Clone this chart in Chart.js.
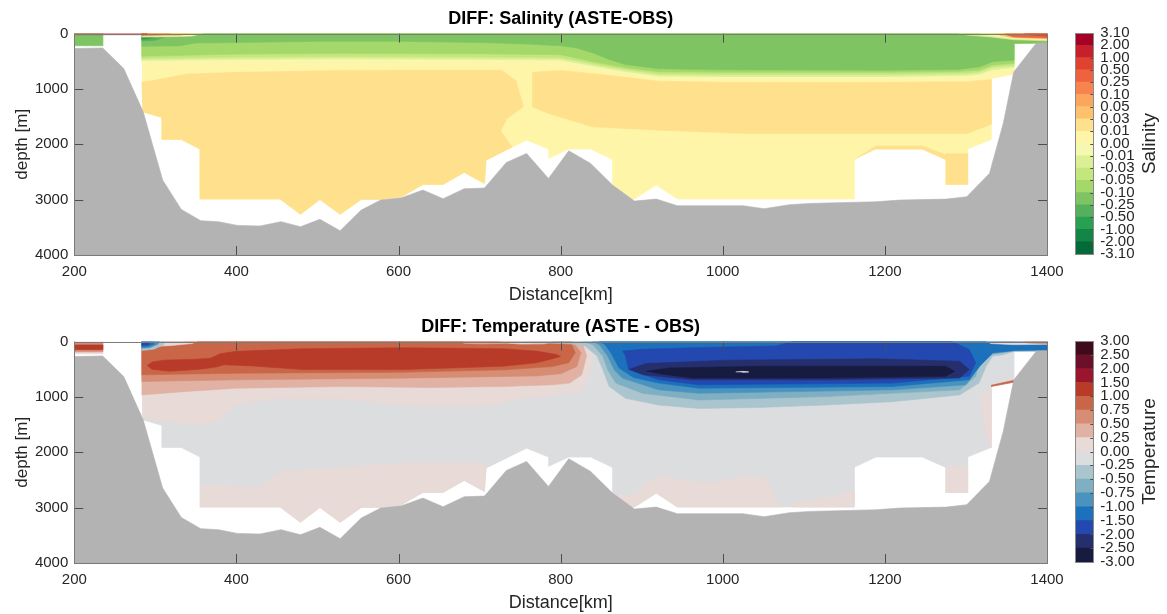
<!DOCTYPE html>
<html>
<head>
<meta charset="utf-8">
<script src="https://cdn.jsdelivr.net/npm/chart.js@4.4.1/dist/chart.umd.min.js"></script>
<style>
  html, body { margin: 0; padding: 0; background: #fff; overflow: hidden; }
  .panel { position: absolute; }
</style>
</head>
<body>
<div class="panel" style="left:0;top:0"><canvas id="salMain" width="1075" height="310"></canvas></div>
<div class="panel" style="left:1060px;top:0"><canvas id="salBar" width="107" height="310"></canvas></div>
<div class="panel" style="left:0;top:308px"><canvas id="tempMain" width="1075" height="310"></canvas></div>
<div class="panel" style="left:1060px;top:308px"><canvas id="tempBar" width="107" height="310"></canvas></div>
<script>
const FONT = "'Liberation Sans', Arial, Helvetica, sans-serif";
const TEXT = '#262626';

// axes
const kmTicks = [200, 400, 600, 800, 1000, 1200, 1400];
const depthTicks = [0, 1000, 2000, 3000, 4000];

// contour levels and colours, top of the colour bar first
const salLevels = [3.10, 2.00, 1.00, 0.50, 0.25, 0.10, 0.05, 0.03, 0.01, 0.00, -0.01, -0.03, -0.05, -0.10, -0.25, -0.50, -1.00, -2.00, -3.10];
const salColors = ['#a50026', '#c8202b', '#e0422f', '#ef623f', '#f8834f', '#fca55d', '#fdc06d', '#fee08d', '#fff5a9',
                   '#f5f9b0', '#dcef95', '#c3e67d', '#a4d86a', '#7ec463', '#55b05d', '#27a052', '#138547', '#036a38'];
const tempLevels = [3.00, 2.50, 2.00, 1.50, 1.00, 0.75, 0.50, 0.25, 0.00, -0.25, -0.50, -0.75, -1.00, -1.50, -2.00, -2.50, -3.00];
const tempColors = ['#3f0a1b', '#6c1029', '#9c152f', '#b83b2a', '#ca6648', '#d68d73', '#e1b1a4', '#e8dad7',
                    '#dcdddf', '#abc5ce', '#7eafc3', '#4a93bf', '#1c71bd', '#2349b0', '#262f6e', '#181b40'];

// sea floor along the section [km, m]
const bathy = [[200,271],[235,259],[261,632],[285,1414],[309,2647],[332,3176],[356,3380],[378,3398],[401,3465],
  [429,3477],[455,3398],[479,3489],[503,3356],[528,3561],[554,3188],[578,3008],[604,2965],[630,2827],[655,2983],
  [681,2803],[706,2791],[733,2328],[758,2165],[785,2617],[810,2117],[837,2346],[864,2737],[891,3026],[918,2990],
  [944,3110],[1025,3110],[1051,3164],[1082,3092],[1107,3068],[1189,3038],[1218,3008],[1276,2990],[1301,2947],
  [1329,2526],[1346,1624],[1359,692],[1387,168],[1400,168]];

// extent of gridded data [km, m]
const shelfCells = [[200,0],[235,0],[235,220],[200,220]];
const dataMask = [[283,0],[1400,0],[1400,168],[1359,175],[1359,734],[1331,812],[1331,1913],[1302,2087],[1302,2725],
  [1275,2725],[1275,2274],[1246,2087],[1189,2087],[1162,2274],[1162,2990],[944,2990],[918,2737],[891,2990],[864,2990],
  [864,2274],[837,2087],[810,2087],[785,2256],[785,2087],[758,1925],[708,2286],[706,2707],[681,2508],[655,2725],
  [630,2725],[604,2947],[578,2996],[554,2996],[528,3266],[503,2996],[479,3266],[454,2990],[355,2990],[355,2087],
  [332,1913],[308,1913],[308,1516],[284,1414]];

// ---------- salinity difference ----------
const salMidLeft = [[283,880],[300,840],[338,730],[400,700],[530,665],[600,662],[727,662],[745,850],[754,1320],
  [734,1534],[726,1756],[740,2050],[708,2286],[706,2707],[681,2508],[655,2725],[630,2725],[604,2947],[578,2996],
  [554,2996],[528,3266],[503,2996],[479,3266],[454,2990],[355,2990],[355,2087],[332,1913],[308,1913],[308,1516],[284,1414]];
const salMidRight = [[765,700],[800,665],[850,740],[922,860],[1000,880],[1150,885],[1300,870],[1331,830],[1331,1640],
  [1302,1805],[1025,1805],[922,1745],[839,1684],[785,1444],[765,1323]];
const salDeepBlock = [[1275,2170],[1302,2170],[1302,2725],[1275,2725]];
const salDeepSill = [[1162,2274],[1189,2030],[1247,2030],[1275,2190],[1275,2274],[1246,2087],[1189,2087]];

const sal10Bottom = [[283,520],[340,505],[400,500],[530,490],[700,500],[800,510],[839,615],[880,720],[921,800],[1000,810],[1200,810],[1300,790],[1317,765],[1333,690],[1359,650]];
const sal11Bottom = [[283,485],[400,465],[530,455],[700,465],[800,475],[839,580],[880,685],[921,765],[1000,775],[1200,775],[1300,755],[1317,730],[1333,650],[1359,610]];
const sal12Bottom = [[283,450],[400,425],[530,415],[700,425],[800,435],[839,545],[880,650],[921,728],[1000,738],[1200,738],[1300,718],[1317,690],[1333,605],[1359,570]];
const sal13Bottom = [[283,410],[400,370],[530,355],[700,365],[800,380],[839,506],[880,616],[921,689],[1000,700],[1200,700],[1290,685],[1317,658],[1333,567],[1359,537]];
const sal14Bottom = [[283,230],[330,220],[350,170],[400,160],[500,140],[600,140],[700,160],[760,190],[800,220],[820,260],[840,350],[860,470],[880,560],[921,635],[1000,655],[1200,660],[1290,650],[1317,600],[1333,506],[1359,480]];

const salSpot15 = [[283,5],[305,10],[312,60],[300,120],[283,135]];
const salSpot16 = [[283,15],[296,22],[300,65],[290,95],[283,100]];
const salStreak9 = [[283,0],[358,0],[345,45],[300,60],[283,62]];
const salStreak7 = [[283,0],[342,0],[330,35],[283,48]];
const salStreak5 = [[283,0],[318,0],[305,25],[283,35]];
const salTopLine = [[200,0],[290,0],[286,20],[200,20]];
const salEast11 = [[1290,0],[1400,0],[1400,130],[1359,110],[1330,60],[1300,25]];
const salEast9 = [[1318,0],[1400,0],[1400,110],[1359,90],[1335,45],[1322,20]];
const salEast7 = [[1335,0],[1400,0],[1400,95],[1359,75],[1342,35]];
const salEast4 = [[1348,0],[1400,0],[1400,80],[1359,60],[1350,25]];
const salEast3 = [[1372,0],[1400,0],[1400,45],[1378,25]];

// ---------- temperature difference ----------
const tempShelf6 = [[200,25],[235,25],[235,185],[200,185]];
const tempShelf4 = [[200,60],[235,60],[235,145],[200,145]];
const tempDeepL = [[356,2586],[429,2634],[455,2346],[490,2316],[604,2195],[708,2195],[708,2286],[706,2707],[681,2508],
  [655,2725],[630,2725],[604,2947],[578,2996],[554,2996],[528,3266],[503,2996],[479,3266],[454,2990],[355,2990]];
const tempDeepR1 = [[864,2767],[891,2780],[905,2560],[918,2436],[983,2556],[1025,2436],[1053,2466],[1070,2990],
  [944,2990],[918,2737],[891,2990],[864,2990]];
const tempDeepR2 = [[1086,2917],[1136,2797],[1162,2707],[1162,2990],[1086,2990]];
const tempDeepR3 = [[1275,2256],[1302,2256],[1302,2725],[1275,2725]];

const tempW8 = [[283,0],[830,0],[840,300],[835,630],[824,900],[798,962],[754,1022],[705,1173],[622,1173],[600,1143],
  [534,1040],[446,1040],[400,1143],[376,1443],[354,1504],[310,1443],[284,1353]];
const tempW7 = [[283,0],[826,0],[832,250],[826,600],[811,750],[790,780],[730,810],[640,830],[530,811],[400,841],[338,902],[283,963]];
const tempW6 = [[283,0],[815,0],[825,200],[820,450],[800,580],[770,620],[600,660],[400,690],[283,720]];
const tempW5 = [[283,0],[812,0],[818,200],[810,380],[790,450],[730,510],[600,555],[400,570],[283,600]];
const tempW4 = [[290,430],[296,370],[310,335],[350,318],[368,300],[380,220],[400,175],[482,130],[606,110],[729,128],
  [770,171],[795,232],[800,270],[785,330],[770,384],[729,445],[606,506],[482,506],[420,440],[385,420],[375,460],
  [355,500],[318,537],[295,500]];
const tempSurf7 = [[680,0],[760,0],[740,30],[700,40],[680,30]];
const tempSurf9 = [[725,0],[790,0],[780,40],[750,45],[735,25]];

const tempB10 = [[750,0],[1400,0],[1400,168],[1359,175],[1345,240],[1333,262],[1325,445],[1316,750],[1292,963],
  [1209,1085],[1127,1146],[1045,1189],[971,1207],[921,1146],[880,1024],[860,811],[852,506],[845,262],[830,80],
  [812,40],[790,30],[765,20]];
const tempB11 = [[826,0],[1400,0],[1400,168],[1359,172],[1333,230],[1316,384],[1312,628],[1292,872],[1127,994],
  [971,1055],[901,933],[868,750],[858,506],[852,262],[840,60]];
const tempB12 = [[839,0],[1359,0],[1359,165],[1333,210],[1318,420],[1300,780],[1209,872],[971,933],[921,872],
  [876,658],[866,506],[858,262],[848,60]];
const tempB13 = [[847,0],[1400,0],[1400,150],[1359,160],[1333,201],[1317,445],[1304,689],[1209,811],[971,841],
  [921,750],[890,650],[872,475],[862,201],[855,60]];
const tempB14 = [[876,171],[901,140],[962,110],[1065,79],[1086,0],[1283,0],[1304,140],[1312,384],[1304,628],
  [1209,750],[971,780],[921,689],[884,506],[880,262]];
const tempB15 = [[884,506],[905,396],[1004,335],[1189,311],[1292,354],[1304,506],[1292,658],[1127,689],[962,689],[901,598]];
const tempB16 = [[905,537],[934,475],[1045,445],[1275,445],[1286,537],[1275,628],[1127,658],[962,658],[921,579]];
const tempGap = [[1016,548],[1024,538],[1032,548],[1024,556]];

const tempEast8 = [[1325,0],[1400,0],[1400,50],[1359,55],[1330,35]];
const tempEast6 = [[1370,0],[1400,0],[1400,40],[1375,25]];
const tempEdge5 = [[1331,790],[1359,700],[1359,734],[1331,812]];
const tempEdge8 = [[1318,1000],[1331,870],[1331,1913],[1324,1700]];
const tempWest8 = [[295,0],[352,0],[345,35],[320,70],[300,85]];
const tempWest9 = [[298,0],[335,0],[330,30],[305,60]];
const tempWest10 = [[283,0],[312,0],[310,60],[298,140],[283,160]];
const tempWest12 = [[283,0],[305,0],[303,50],[293,110],[283,120]];
const tempWest13 = [[283,5],[298,8],[298,50],[290,90],[283,95]];
const tempWest14 = [[283,20],[292,25],[292,55],[283,70]];

// layer that reaches the surface, closed by the interface below it
function surfaceLayer(bottom) {
  const top = [[283, 0], [1400, 0], [1400, 168], [1359, 175]];
  return top.concat(bottom.slice().reverse());
}

const seafloor = bathy.concat([[1400, 4000], [200, 4000]]);

// tick marks inside the box, plus the box itself
const boxTicks = {
  id: 'boxTicks',
  afterDatasetsDraw(chart, args, opts) {
    const { ctx, chartArea: a } = chart;
    const L = opts.length;
    ctx.save();
    ctx.lineWidth = 1;
    ctx.strokeStyle = opts.color;
    ctx.beginPath();
    const xs = chart.scales.x, ys = chart.scales.y;
    if (opts.xTicks) {
      xs.ticks.forEach(t => {
        const p = Math.round(xs.getPixelForValue(t.value)) + 0.5;
        ctx.moveTo(p, a.top); ctx.lineTo(p, a.top + L);
        ctx.moveTo(p, a.bottom); ctx.lineTo(p, a.bottom - L);
      });
    }
    ys.ticks.forEach(t => {
      const p = Math.round(ys.getPixelForValue(t.value)) + 0.5;
      if (opts.leftTicks) { ctx.moveTo(a.left, p); ctx.lineTo(a.left + L, p); }
      ctx.moveTo(a.right, p); ctx.lineTo(a.right - L, p);
    });
    ctx.stroke();
    ctx.strokeStyle = opts.frame;
    const l = Math.round(a.left) + 0.5, t = Math.round(a.top) + 0.5;
    ctx.strokeRect(l, t, Math.round(a.right) - Math.round(a.left), Math.round(a.bottom) - Math.round(a.top));
    ctx.restore();
  }
};

// rotated colour-bar caption, reading upwards
const sideLabel = {
  id: 'sideLabel',
  afterDraw(chart, args, opts) {
    const { ctx, chartArea: a } = chart;
    ctx.save();
    ctx.translate(opts.x, (a.top + a.bottom) / 2);
    ctx.rotate(-Math.PI / 2);
    ctx.font = '19px ' + FONT;
    ctx.fillStyle = TEXT;
    ctx.textAlign = 'center';
    ctx.textBaseline = 'middle';
    ctx.fillText(opts.text, 0, 0);
    ctx.restore();
  }
};

// keep the plot box where it is, whatever the edge labels need
function noEdgePadding(s) {
  s.paddingLeft = s.paddingRight = s.paddingTop = s.paddingBottom = 0;
}

function polygon(pts, color, i, n) {
  return {
    data: pts.map(([x, y]) => ({ x, y })),
    showLine: true,
    fill: 'shape',
    tension: 0,
    backgroundColor: color,
    borderColor: color,
    borderWidth: 0.6,
    pointRadius: 0,
    pointHoverRadius: 0,
    order: n - i
  };
}

function sectionChart(id, title, layers, colors) {
  const list = layers.map(([pts, c]) => [pts, typeof c === 'number' ? colors[c - 1] : c]);
  list.push([seafloor, '#b3b3b3']);
  const datasets = list.map(([pts, c], i) => polygon(pts, c, i, list.length));

  return new Chart(document.getElementById(id), {
    type: 'scatter',
    data: { datasets },
    options: {
      responsive: false,
      animation: false,
      events: [],
      layout: { padding: { left: 0, right: 28, top: 0, bottom: 0 } },
      plugins: {
        legend: { display: false },
        tooltip: { enabled: false },
        title: {
          display: true, text: title, color: '#000', fullSize: false,
          font: { family: FONT, size: 18, weight: 'bold' },
          padding: { top: 8, bottom: 4 }
        },
        boxTicks: { length: 9, color: '#4d4d4d', frame: '#7a7a7a', xTicks: true, leftTicks: true }
      },
      scales: {
        x: {
          type: 'linear', min: 200, max: 1400,
          afterBuildTicks: s => { s.ticks = kmTicks.map(v => ({ value: v })); },
          afterFit: s => { s.height = 55; noEdgePadding(s); },
          grid: { display: false, drawTicks: false },
          border: { display: false },
          ticks: { color: TEXT, font: { family: FONT, size: 15 }, padding: 8, maxRotation: 0, autoSkip: false,
                   callback: v => String(v) },
          title: { display: true, text: 'Distance[km]', color: TEXT, font: { family: FONT, size: 18 }, padding: { top: 0, bottom: 4 } }
        },
        y: {
          type: 'linear', min: 0, max: 4000, reverse: true,
          afterBuildTicks: s => { s.ticks = depthTicks.map(v => ({ value: v })); },
          afterFit: s => { s.width = 74.3; noEdgePadding(s); },
          grid: { display: false, drawTicks: false },
          border: { display: false },
          ticks: { color: TEXT, font: { family: FONT, size: 15 }, padding: 6, autoSkip: false,
                   callback: v => String(v) },
          title: { display: true, text: 'depth [m]', color: TEXT, font: { family: FONT, size: 17 }, padding: { top: 12, bottom: 0 } }
        }
      }
    },
    plugins: [boxTicks]
  });
}

function colorBar(id, levels, colors, caption, top, bottom) {
  const n = colors.length;
  const fromBottom = colors.slice().reverse();
  return new Chart(document.getElementById(id), {
    type: 'bar',
    data: {
      labels: [''],
      datasets: fromBottom.map(c => ({
        data: [1], backgroundColor: c, borderWidth: 0, barPercentage: 1, categoryPercentage: 1
      }))
    },
    options: {
      responsive: false,
      animation: false,
      events: [],
      layout: { padding: { left: 15, right: 0, top: top, bottom: bottom } },
      plugins: {
        legend: { display: false },
        tooltip: { enabled: false },
        boxTicks: { length: 3, color: '#4d4d4d', frame: '#8a8a8a', xTicks: false, leftTicks: false },
        sideLabel: { text: caption, x: 90 }
      },
      scales: {
        x: { stacked: true, display: false },
        y: {
          stacked: true, position: 'right', min: 0, max: n,
          afterBuildTicks: s => { s.ticks = levels.map((_, i) => ({ value: i })); },
          afterFit: s => { s.width = 73.7; noEdgePadding(s); },
          grid: { display: false, drawTicks: false },
          border: { display: false },
          ticks: {
            autoSkip: false, padding: 7, color: TEXT, font: { family: FONT, size: 15 },
            callback: v => levels[n - v].toFixed(2)
          }
        }
      }
    },
    plugins: [boxTicks, sideLabel]
  });
}

sectionChart('salMain', 'DIFF: Salinity (ASTE-OBS)', [
  [shelfCells, 14], [dataMask, 9],
  [salMidLeft, 8], [salMidRight, 8], [salDeepBlock, 8], [salDeepSill, 8],
  [surfaceLayer(sal10Bottom), 10], [surfaceLayer(sal11Bottom), 11], [surfaceLayer(sal12Bottom), 12],
  [surfaceLayer(sal13Bottom), 13], [surfaceLayer(sal14Bottom), 14],
  [salSpot15, 15], [salSpot16, 16],
  [salStreak9, 9], [salStreak7, 7], [salStreak5, 5], [salTopLine, 2],
  [salEast11, 11], [salEast9, 9], [salEast7, 7], [salEast4, 4], [salEast3, 3]
], salColors);

sectionChart('tempMain', 'DIFF: Temperature (ASTE - OBS)', [
  [shelfCells, 8], [tempShelf6, 6], [tempShelf4, 4],
  [dataMask, 9],
  [tempDeepL, 8], [tempDeepR1, 8], [tempDeepR2, 8], [tempDeepR3, 8],
  [tempW8, 8], [tempW7, 7], [tempW6, 6], [tempW5, 5], [tempW4, 4],
  [tempSurf7, 7], [tempSurf9, 9],
  [tempB10, 10], [tempB11, 11], [tempB12, 12], [tempB13, 13], [tempB14, 14], [tempB15, 15], [tempB16, 16],
  [tempGap, '#ffffff'],
  [tempEast8, 8], [tempEast6, 6], [tempEdge5, 5], [tempEdge8, 8],
  [tempWest8, 8], [tempWest9, 9], [tempWest10, 10], [tempWest12, 12], [tempWest13, 13], [tempWest14, 14]
], tempColors);

colorBar('salBar', salLevels, salColors, 'Salinity', 33, 56);
colorBar('tempBar', tempLevels, tempColors, 'Temperature', 33, 56);
</script>
</body>
</html>
